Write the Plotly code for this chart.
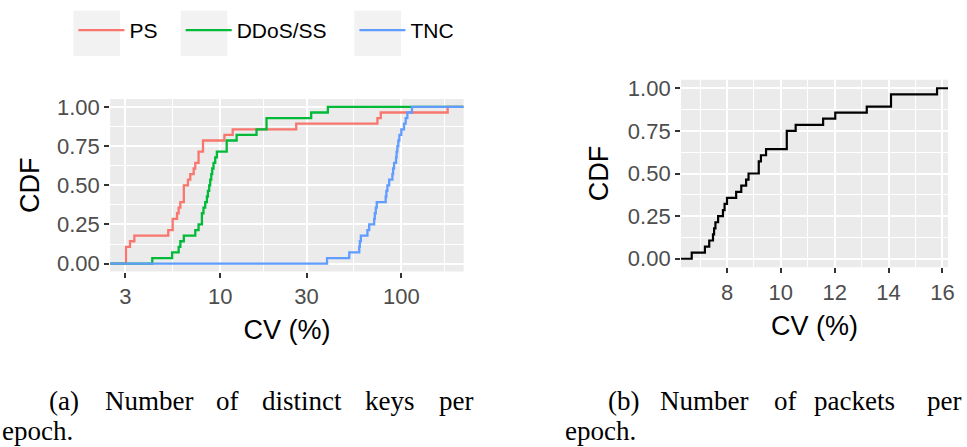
import numpy as np
import plotly.graph_objects as go

W, H = 967, 447

# ---------------- data ----------------
series_names = ["PS", "DDoS/SS", "TNC"]
series_colors = ["#F8766D", "#00BA38", "#619CFF"]

ps_cv = [3.02, 3.02, 3.02, 3.18, 3.36, 5.17, 5.47, 5.47, 5.78, 5.90, 6.03, 6.30, 6.30, 6.30,
         6.64, 6.84, 7.14, 7.29, 7.60, 7.60, 8.04, 8.04, 10.56, 11.73, 26.3, 73.8, 77.0, 180.3]
ddos_cv = [4.22, 5.43, 5.90, 6.03, 6.30, 7.29, 7.60, 7.93, 7.93, 8.09, 8.27, 8.45, 8.56, 8.70,
           8.81, 8.93, 9.04, 9.19, 9.39, 9.59, 10.87, 10.87, 12.33, 15.88, 18.03, 18.03, 31.8, 39.3]
tnc_cv = [38.9, 51.6, 58.6, 59.0, 59.8, 65.0, 66.5, 70.8, 71.4, 72.3, 73.2, 82.0, 82.7, 83.8,
          85.7, 89.3, 90.1, 91.2, 93.5, 94.2, 95.1, 96.3, 97.6, 100.0, 103.5, 105.7, 108.0, 114.5]
pkt_cv = [6.69, 7.18, 7.34, 7.48, 7.52, 7.57, 7.67, 7.85, 7.91, 8.00, 8.34, 8.53, 8.71, 8.80,
          9.18, 9.18, 9.26, 9.45, 10.22, 10.22, 10.22, 10.55, 11.57, 12.02, 13.19, 14.09, 14.09, 15.80]

left_xticks = [3, 10, 30, 100]
right_xticks = [8, 10, 12, 14, 16]
y_ticks = [0, 0.25, 0.5, 0.75, 1.0]
y_ticktext = ["0.00", "0.25", "0.50", "0.75", "1.00"]

caption_a = ["(a)", "Number", "of", "distinct", "keys", "per"]
caption_b = ["(b)", "Number", "of", "packets", "per"]
caption_tail = "epoch."

# ---------------- layout constants ----------------
left_log_range = [0.393, 2.344]
right_range = [6.293, 16.21]
y_range = [-0.05, 1.05]
legend_box_starts = [74, 182, 357]   # px, ggplot-style key boxes
legend_ids = ["legend", "legend2", "legend3"]


def ecdf(vals, lo, hi):
    v = np.sort(np.asarray(vals, dtype=float))
    n = len(v)
    x = np.concatenate([[lo], v, [hi]])
    y = np.concatenate([[0.0], np.arange(1, n + 1) / n, [1.0]])
    return x, y


fig = go.Figure()
for name, vals, col, lg in zip(series_names, [ps_cv, ddos_cv, tnc_cv], series_colors, legend_ids):
    x, y = ecdf(vals, 10 ** left_log_range[0], 10 ** left_log_range[1])
    fig.add_trace(go.Scatter(x=x, y=y, mode="lines", name=name, legend=lg,
                             line=dict(color=col, width=2.3, shape="hv"),
                             xaxis="x", yaxis="y"))

x, y = ecdf(pkt_cv, right_range[0], right_range[1])
fig.add_trace(go.Scatter(x=x, y=y, mode="lines", name="packets", showlegend=False,
                         line=dict(color="black", width=2.2, shape="hv"),
                         xaxis="x2", yaxis="y2"))

tick_font = dict(family="Liberation Sans", size=22, color="#4D4D4D")
title_font = dict(family="Liberation Sans", size=27, color="black")

common_axis = dict(showgrid=True, gridcolor="white", gridwidth=2, zeroline=False,
                   showline=False, ticks="outside", ticklen=5, tickwidth=2,
                   tickcolor="#333333", tickfont=tick_font)

log_minor = [np.sqrt(a * b) for a, b in zip(left_xticks[:-1], left_xticks[1:])] + [np.sqrt(100 * 300)]
lin_minor = [(a + b) / 2 for a, b in zip(right_xticks[:-1], right_xticks[1:])] + [7]
y_minor = [(a + b) / 2 for a, b in zip(y_ticks[:-1], y_ticks[1:])]

minor_style = dict(showgrid=True, gridcolor="white", gridwidth=1, ticks="")

legend_style = dict(orientation="h", xanchor="left", y=1 - 27 / H, yanchor="middle",
                    font=dict(family="Liberation Sans", size=21, color="black"),
                    itemwidth=46, bgcolor="rgba(0,0,0,0)", borderwidth=0)

fig.update_layout(
    width=W, height=H,
    margin=dict(l=0, r=0, t=0, b=0),
    paper_bgcolor="white", plot_bgcolor="#EBEBEB",
    xaxis=dict(domain=[111 / W, 467 / W], type="log", range=left_log_range,
               tickvals=left_xticks, ticktext=[str(t) for t in left_xticks],
               minor=dict(tickvals=log_minor, **minor_style),
               title=dict(text="CV (%)", font=title_font, standoff=12),
               anchor="y", **common_axis),
    yaxis=dict(domain=[(H - 273) / H, (H - 97) / H], range=y_range,
               tickvals=y_ticks, ticktext=y_ticktext,
               minor=dict(tickvals=y_minor, **minor_style),
               title=dict(text="CDF", font=title_font, standoff=9),
               anchor="x", **common_axis),
    xaxis2=dict(domain=[686 / W, 955 / W], range=right_range,
                tickvals=right_xticks, ticktext=[str(t) for t in right_xticks],
                minor=dict(tickvals=lin_minor, **minor_style),
                title=dict(text="CV (%)", font=title_font, standoff=12),
                anchor="y2", **common_axis),
    yaxis2=dict(domain=[(H - 268.7) / H, (H - 77.3) / H], range=y_range,
                tickvals=y_ticks, ticktext=y_ticktext,
                minor=dict(tickvals=y_minor, **minor_style),
                title=dict(text="CDF", font=title_font, standoff=11),
                anchor="x2", **common_axis),
    legend=dict(x=legend_box_starts[0] / W, **legend_style),
    legend2=dict(x=legend_box_starts[1] / W, **legend_style),
    legend3=dict(x=legend_box_starts[2] / W, **legend_style),
    showlegend=True,
)

# legend key backgrounds (ggplot style)
for x0 in legend_box_starts:
    fig.add_shape(type="rect", xref="paper", yref="paper",
                  x0=x0 / W, x1=(x0 + 47) / W, y0=1 - 53 / H, y1=1 - 7 / H,
                  fillcolor="#F2F2F2", line=dict(width=0), layer="below")

# captions
cap_font = dict(family="Liberation Serif", size=27, color="black")
a_starts = [47, 104, 216, 262, 366, 440]
b_starts = [610, 663, 778, 818, 932]
for word, xs in zip(caption_a, a_starts):
    fig.add_annotation(x=xs / W, y=1 - 405 / H, xref="paper", yref="paper", text=word,
                       showarrow=False, xanchor="left", yanchor="middle", font=cap_font)
for word, xs in zip(caption_b, b_starts):
    fig.add_annotation(x=xs / W, y=1 - 405 / H, xref="paper", yref="paper", text=word,
                       showarrow=False, xanchor="left", yanchor="middle", font=cap_font)
for xs in [0, 567]:
    fig.add_annotation(x=xs / W, y=1 - 436 / H, xref="paper", yref="paper", text=caption_tail,
                       showarrow=False, xanchor="left", yanchor="middle", font=cap_font)

fig.write_html("out.html")
